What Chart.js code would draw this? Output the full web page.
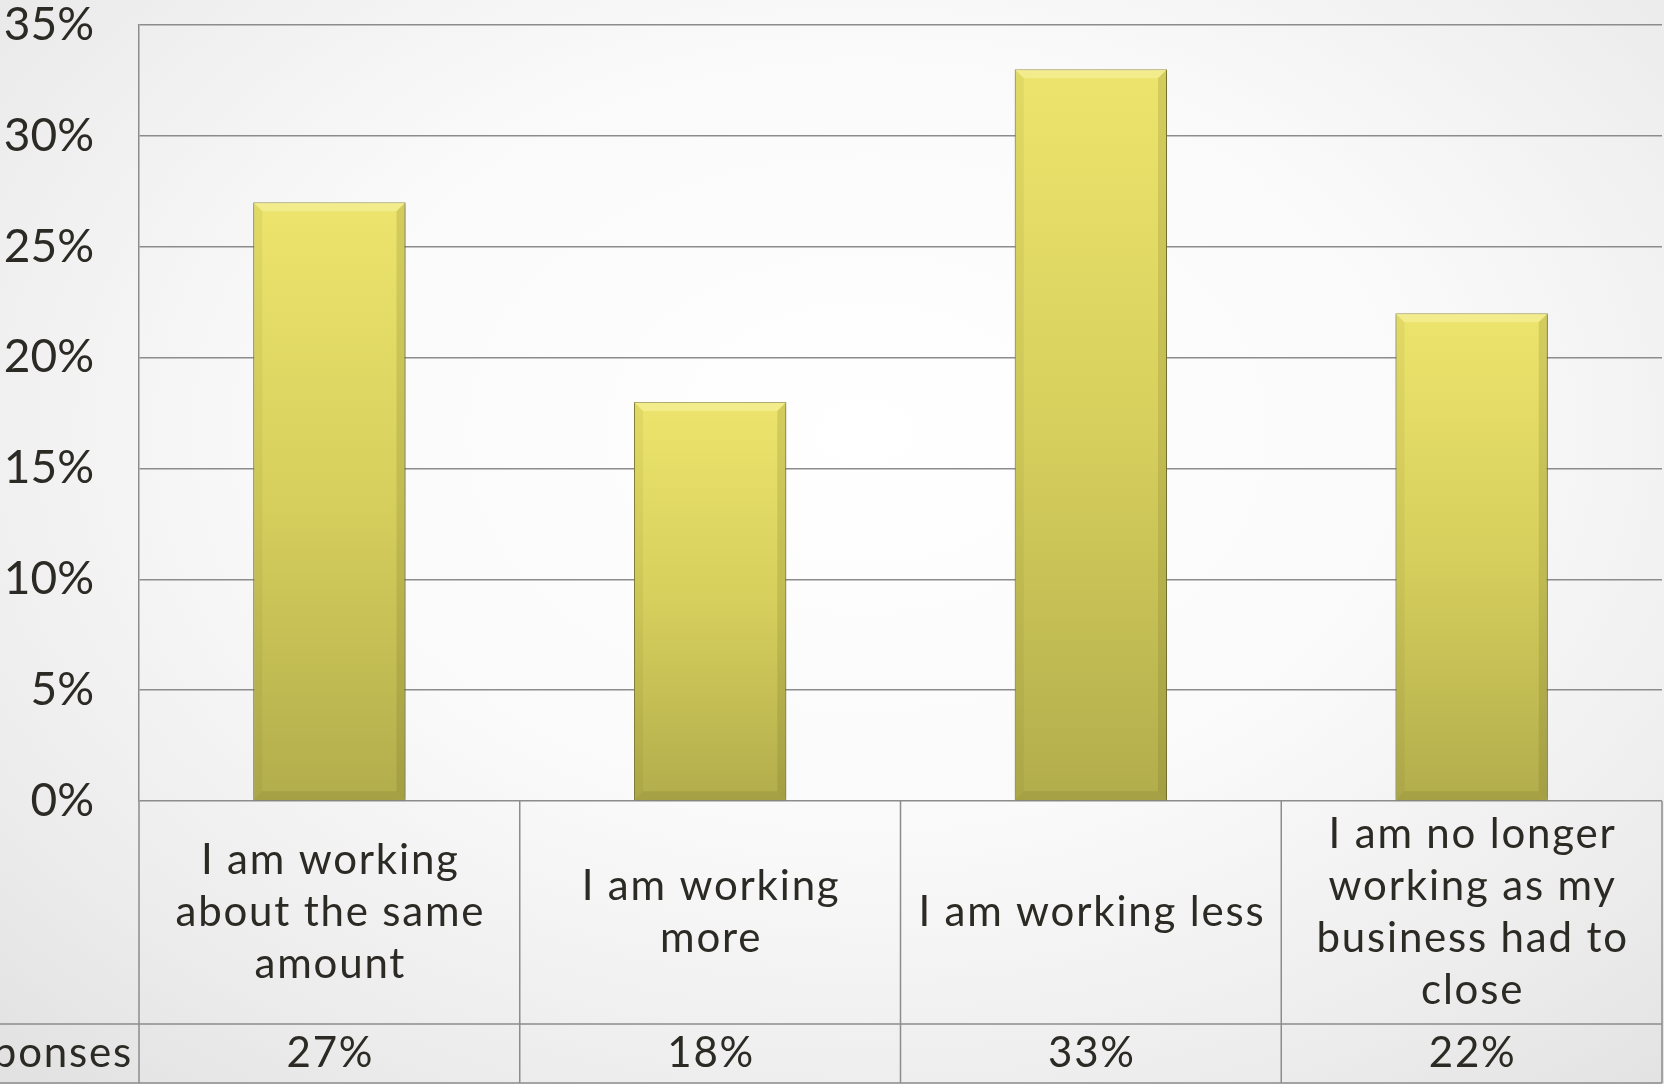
<!DOCTYPE html>
<html>
<head>
<meta charset="utf-8">
<script src="https://cdn.jsdelivr.net/npm/chart.js@4/dist/chart.umd.min.js"></script>
<style>
  html, body { margin: 0; padding: 0; }
  body {
    width: 1664px; height: 1084px; overflow: hidden;
    background: radial-gradient(ellipse 75% 80% at 52% 40%, #ffffff 0%, #fafafa 45%, #ececec 80%, #e2e2e2 100%);
  }
  #wrap { position: relative; width: 1664px; height: 1084px; }
</style>
</head>
<body>
<div id="wrap"><canvas id="work-chart"></canvas></div>
<script>
"use strict";

// categories (already broken into lines for the table cells)
var categories = [
  ["I am working", "about the same", "amount"],
  ["I am working", "more"],
  ["I am working less"],
  ["I am no longer", "working as my", "business had to", "close"]
];
var responses = [27, 18, 33, 22];
var rowLabel = "Responses";
var yMax = 35;
var yStep = 5;

var FONT = "Lato, 'Open Sans', sans-serif";
var TEXT = "#2c2a24";
var LINE = "#8c8c8c";
var ROW1 = 223;   // height of the category row under the axis
var LINE_H = 52;

// bar fill: bright yellow at the top fading to olive at the base
function barFill(c) {
  var chart = c.chart;
  if (!chart.chartArea || c.raw === undefined) return "#d4cd5c";
  var y = chart.scales.y;
  var g = chart.ctx.createLinearGradient(0, y.getPixelForValue(c.raw), 0, y.getPixelForValue(0));
  g.addColorStop(0, "#ece46c");
  g.addColorStop(0.5, "#d6cf5d");
  g.addColorStop(1, "#b2ad4c");
  return g;
}

// soft shadow behind the bars
var shadowPlugin = {
  id: "barShadow",
  beforeDatasetsDraw: function(chart) {
    var c = chart.ctx;
    c.save();
    c.shadowColor = "rgba(0,0,0,0.35)";
    c.shadowBlur = 5;
    c.shadowOffsetX = 1;
    c.shadowOffsetY = 1;
  },
  afterDatasetsDraw: function(chart) {
    chart.ctx.restore();
    drawBevels(chart);
  }
};

function quad(c, pts, col) {
  c.beginPath();
  c.moveTo(pts[0][0], pts[0][1]);
  for (var i = 1; i < pts.length; i++) c.lineTo(pts[i][0], pts[i][1]);
  c.closePath();
  c.fillStyle = col;
  c.fill();
}

function drawBevels(chart) {
  var c = chart.ctx;
  var b = 9;
  chart.getDatasetMeta(0).data.forEach(function(bar) {
    var L = bar.x - bar.width / 2, R = bar.x + bar.width / 2;
    var T = bar.y, B = bar.base;
    c.save();
    quad(c, [[L, T], [R, T], [R - b, T + b], [L + b, T + b]], "rgba(255,252,200,0.35)");
    quad(c, [[L, T], [L + b, T + b], [L + b, B - b], [L, B]], "rgba(90,85,20,0.07)");
    quad(c, [[R, T], [R, B], [R - b, B - b], [R - b, T + b]], "rgba(90,85,20,0.16)");
    quad(c, [[L, B], [L + b, B - b], [R - b, B - b], [R, B]], "rgba(90,85,20,0.14)");
    c.restore();
  });
}

// data table under the plot: category row and value row
var tablePlugin = {
  id: "dataTable",
  afterDraw: function(chart) {
    var c = chart.ctx;
    var area = chart.chartArea;
    var x = chart.scales.x;
    var n = categories.length;
    var w = (area.right - area.left) / n;
    var top = area.bottom;
    var mid = top + ROW1;
    var bottom = chart.height - 1;

    c.save();
    c.strokeStyle = LINE;
    c.lineWidth = 1.5;
    c.beginPath();
    c.moveTo(0, mid); c.lineTo(area.right, mid);
    c.moveTo(0, bottom); c.lineTo(area.right, bottom);
    for (var i = 0; i <= n; i++) {
      var bx = area.left + i * w;
      c.moveTo(bx, top); c.lineTo(bx, bottom);
    }
    c.stroke();

    c.fillStyle = TEXT;
    c.font = "42px " + FONT;
    c.letterSpacing = "1.8px";
    c.textAlign = "center";
    c.textBaseline = "middle";
    var cy = top + ROW1 / 2;
    categories.forEach(function(lines, i) {
      var cx = x.getPixelForValue(i) + 1;
      var y0 = cy - (lines.length - 1) * LINE_H / 2;
      lines.forEach(function(t, k) { c.fillText(t, cx, y0 + k * LINE_H); });
      c.fillText(responses[i] + "%", cx, (mid + bottom) / 2);
    });
    c.textAlign = "right";
    c.fillText(rowLabel, area.left - 6, (mid + bottom) / 2);
    c.restore();
  }
};

var canvas = document.getElementById("work-chart");
canvas.width = 1664;
canvas.height = 1084;

new Chart(canvas.getContext("2d"), {
  type: "bar",
  data: {
    labels: categories,
    datasets: [{
      data: responses,
      backgroundColor: barFill,
      borderColor: "#8f8a40",
      borderWidth: 1,
      barPercentage: 0.4,
      categoryPercentage: 1
    }]
  },
  options: {
    responsive: false,
    animation: false,
    events: [],
    layout: { padding: { top: 25, right: 2, left: 0, bottom: 0 } },
    plugins: { legend: { display: false }, tooltip: { enabled: false } },
    scales: {
      x: {
        ticks: { display: false },
        grid: { display: false },
        border: { display: false },
        afterFit: function(s) { s.height = 283; }
      },
      y: {
        min: 0,
        max: yMax,
        ticks: {
          stepSize: yStep,
          padding: 45,
          color: TEXT,
          font: { family: FONT, size: 46, lineHeight: 1 },
          callback: function(v) { return v + "%"; }
        },
        grid: { color: LINE, lineWidth: 1.5, drawTicks: false },
        border: { display: true, color: LINE, width: 1.5 },
        afterFit: function(s) { s.width = 139; s.paddingTop = 0; s.paddingBottom = 0; }
      }
    }
  },
  plugins: [shadowPlugin, tablePlugin]
});
</script>
</body>
</html>
